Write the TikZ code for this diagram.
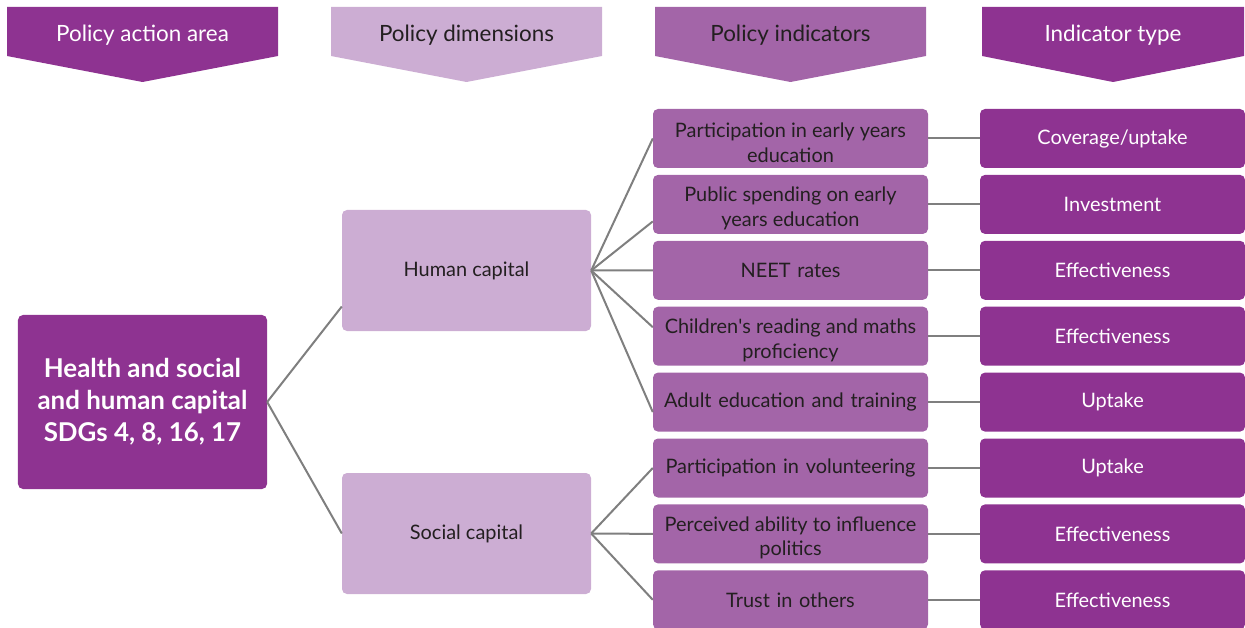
\documentclass[tikz,border=0pt]{standalone}
\usepackage{fontspec}
\setmainfont{Lato}
\definecolor{dark}{HTML}{8E3391}
\definecolor{light}{HTML}{CCADD3}
\definecolor{mid}{HTML}{A365A8}
\definecolor{txt}{HTML}{231F20}
\definecolor{conn}{HTML}{7F7F7F}
\tikzset{
  box/.style={rounded corners=5bp, inner sep=1bp, align=center, font=\fontsize{20}{25}\selectfont},
  mainbox/.style={box, fill=dark, text=white, minimum width=249bp, minimum height=174bp, font=\bfseries\fontsize{26}{32}\selectfont},
  dimbox/.style={box, fill=light, text=txt, minimum width=249bp, minimum height=121bp},
  indbox/.style={box, fill=mid, text=txt, minimum width=275bp, minimum height=59bp, text width=273bp},
  twoline/.style={label={[text=txt, align=center, font=\fontsize{20}{25}\selectfont, yshift=-4bp]center:#1}},
  typebox/.style={box, fill=dark, text=white, minimum width=265bp, minimum height=59bp},
  htext/.style={font=\fontsize{22.5}{26}\selectfont},
  link/.style={draw=conn, line width=2bp}
}
\begin{document}
\begin{tikzpicture}[x=1bp,y=-1bp]
\useasboundingbox (0,0) rectangle (1245,628);
% headers
\fill[dark] (7,7) -- (278,7) -- (278,56) -- (142.5,82) -- (7,56) -- cycle;
\node[htext, text=white] (h1) at (142.5,35.5) {Policy action area};
\fill[light] (331,7) -- (602,7) -- (602,56) -- (466.5,82) -- (331,56) -- cycle;
\node[htext, text=txt] (h2) at (466.5,35.5) {Policy dimensions};
\fill[mid] (655,7) -- (926,7) -- (926,56) -- (790.5,82) -- (655,56) -- cycle;
\node[htext, text=txt] (h3) at (790.5,35.5) {Policy indicators};
\fill[dark] (982,7) -- (1244,7) -- (1244,56) -- (1113,82) -- (982,56) -- cycle;
\node[htext, text=white] (h4) at (1113,35.5) {Indicator type};
% main
\node[mainbox] (main) at (142.5,402) {Health and social\\and human capital\\SDGs 4, 8, 16, 17};
\node[dimbox] (hc) at (466.5,270.5) {Human capital};
\node[dimbox] (sc) at (466.5,533.5) {Social capital};
% indicators
\node[indbox, twoline={Participation in early years\\education}] (i1) at (790.5,138.5) {};
\node[indbox, twoline={Public spending on early\\years education}] (i2) at (790.5,204.4) {};
\node[indbox] (i3) at (790.5,270.3) {NEET rates};
\node[indbox, twoline={Children\textquotesingle s reading and maths\\proficiency}] (i4) at (790.5,336.2) {};
\node[indbox] (i5) at (790.5,402.1) {Adult education and training};
\node[indbox] (i6) at (790.5,468.0) {Participation in volunteering};
\node[indbox, twoline={Perceived ability to influence\\politics}] (i7) at (790.5,533.9) {};
\node[indbox] (i8) at (790.5,599.8) {Trust in others};
% types
\node[typebox] (t1) at (1112.5,138.5) {Coverage/uptake};
\node[typebox] (t2) at (1112.5,204.4) {Investment};
\node[typebox] (t3) at (1112.5,270.3) {Effectiveness};
\node[typebox] (t4) at (1112.5,336.2) {Effectiveness};
\node[typebox] (t5) at (1112.5,402.1) {Uptake};
\node[typebox] (t6) at (1112.5,468.0) {Uptake};
\node[typebox] (t7) at (1112.5,533.9) {Effectiveness};
\node[typebox] (t8) at (1112.5,599.8) {Effectiveness};
% connectors
\path[link] (main.east) -- ([yshift=-36bp]hc.west);
\path[link] (main.east) -- (sc.west);
\path[link] (hc.east) -- (i1.west);
\path[link] (hc.east) -- ([yshift=-17bp]i2.west);
\path[link] (hc.east) -- (i3.west);
\path[link] (hc.east) -- ([yshift=9bp]i4.west);
\path[link] (hc.east) -- ([yshift=-10bp]i5.west);
\path[link] (sc.east) -- (i6.west);
\path[link] (sc.east) -- (i7.west);
\path[link] (sc.east) -- (i8.west);
\foreach \k in {1,...,8} { \path[link] (i\k.east) -- (t\k.west); }
\end{tikzpicture}
\end{document}
